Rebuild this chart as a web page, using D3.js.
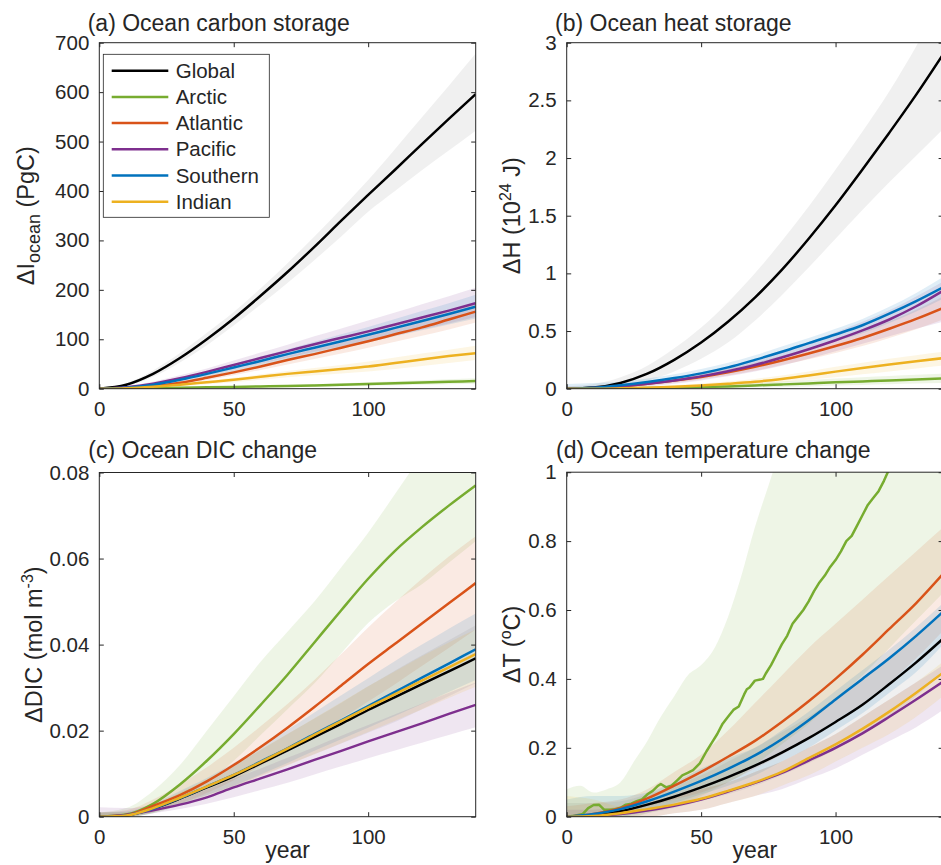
<!DOCTYPE html>
<html><head><meta charset="utf-8">
<script src="https://cdn.jsdelivr.net/npm/d3@7"></script>
<style>
body{margin:0;background:#fff}
svg{display:block}
text{font-family:"Liberation Sans",Arial,Helvetica,sans-serif;fill:#262626}
</style>
</head><body>
<svg id="chart" width="941" height="865"></svg>
<script>
// ---------------- DATA ----------------
const years = [0,10,20,30,40,50,60,70,80,90,100,110,120,130,140];
const regions = ["Global","Arctic","Atlantic","Pacific","Southern","Indian"];
const regionColors = ["#000000","#77AC30","#D95319","#7E2F8E","#0072BD","#EDB120"];
const xTicks = [0,50,100];

// (a) Ocean carbon storage, PgC
const carbonTicks = [0,100,200,300,400,500,600,700];
const carbonGlobal   = [0,8,30,62,100,142,188,236,287,340,392,443,495,546,596];
const carbonGlobalLo = [0,5,24,53,88,128,170,214,260,308,358,400,442,482,522];
const carbonGlobalHi = [1,11,37,72,113,155,203,254,308,364,422,485,549,613,678];
const carbonArctic   = [0,0.3,1,2,2.7,3.5,4.5,5.5,6.7,8,9.5,11,12.5,14,15.5];
const carbonArcticLo = [0,0,0.4,1,1.5,2,2.7,3.4,4.2,5,6,7,8,9,10];
const carbonArcticHi = [0.3,0.7,1.6,3,4,5,6.3,7.7,9.2,11,13,15,17,19,21];
const carbonAtlantic   = [0,1,5,12,22,33,45,58,70,83,96,110,124,140,156];
const carbonAtlanticLo = [0,0.5,3,9,17,27,38,49,60,71,83,95,107,120,134];
const carbonAtlanticHi = [0.5,2,7,15,27,39,52,66,80,94,109,124,140,156,172];
const carbonPacific   = [0,3,10,21,34,48,62,76,90,103,116,130,144,158,173];
const carbonPacificLo = [0,1.5,7,16,27,39,51,63,75,86,97,108,120,132,145];
const carbonPacificHi = [2,5,14,27,41,57,73,89,106,122,138,154,171,187,204];
const carbonSouthern   = [0,2,8,18,30,43,56,70,83,96,109,123,137,151,166];
const carbonSouthernLo = [0,1,5,14,24,35,47,59,71,82,94,106,118,130,142];
const carbonSouthernHi = [1,3,10,21,35,50,65,80,95,110,125,141,157,173,190];
const carbonIndian   = [0,1,4,8,13,18,24,30,35,40,45,52,59,66,72];
const carbonIndianLo = [0,0.5,2.5,5.5,9,13,18,23,27,31,35,40,46,52,58];
const carbonIndianHi = [0.5,1.5,5,10,16,22,29,36,42,48,55,63,71,79,87];

// (b) Ocean heat storage, 10^24 J
const heatTicks = [0,0.5,1,1.5,2,2.5,3];
const heatGlobal   = [0,0.01,0.05,0.13,0.25,0.40,0.58,0.79,1.03,1.30,1.59,1.90,2.22,2.55,2.90];
const heatGlobalLo = [0,0,0.02,0.07,0.15,0.26,0.4,0.59,0.81,1.05,1.3,1.55,1.79,2.02,2.25];
const heatGlobalHi = [0.02,0.04,0.1,0.2,0.35,0.53,0.75,1.0,1.28,1.58,1.9,2.23,2.58,2.97,3.4];
const heatArctic   = [0,0,0.002,0.005,0.009,0.014,0.02,0.028,0.037,0.046,0.055,0.063,0.071,0.08,0.09];
const heatArcticLo = [0,0,0,0,0.002,0.004,0.007,0.01,0.015,0.02,0.027,0.033,0.039,0.045,0.05];
const heatArcticHi = [0.01,0.01,0.01,0.015,0.02,0.028,0.038,0.05,0.062,0.075,0.088,0.1,0.11,0.12,0.13];
const heatAtlantic   = [0,0.005,0.02,0.042,0.07,0.102,0.142,0.19,0.245,0.305,0.37,0.44,0.52,0.605,0.7];
const heatAtlanticLo = [0,0,0.008,0.028,0.052,0.08,0.115,0.155,0.205,0.255,0.31,0.37,0.44,0.515,0.6];
const heatAtlanticHi = [0.01,0.015,0.035,0.058,0.09,0.127,0.172,0.225,0.285,0.35,0.42,0.495,0.585,0.685,0.8];
const heatPacific   = [0,0.005,0.02,0.043,0.072,0.107,0.152,0.205,0.27,0.342,0.42,0.505,0.6,0.715,0.85];
const heatPacificLo = [0,0,0.005,0.02,0.043,0.072,0.107,0.15,0.2,0.26,0.325,0.39,0.455,0.52,0.58];
const heatPacificHi = [0.02,0.02,0.04,0.067,0.098,0.137,0.187,0.25,0.325,0.405,0.49,0.58,0.68,0.8,0.93];
const heatSouthern   = [0,0.008,0.03,0.058,0.092,0.133,0.185,0.25,0.32,0.395,0.47,0.55,0.65,0.76,0.88];
const heatSouthernLo = [0,0,0.01,0.038,0.068,0.1,0.145,0.2,0.265,0.335,0.41,0.48,0.57,0.67,0.78];
const heatSouthernHi = [0.04,0.05,0.06,0.088,0.125,0.17,0.225,0.29,0.365,0.44,0.52,0.605,0.71,0.83,0.97];
const heatIndian   = [0,0,0.003,0.008,0.016,0.027,0.042,0.06,0.085,0.115,0.148,0.18,0.21,0.238,0.265];
const heatIndianLo = [0,0,0,0.002,0.006,0.012,0.022,0.036,0.055,0.078,0.1,0.125,0.15,0.175,0.2];
const heatIndianHi = [0.005,0.005,0.01,0.018,0.03,0.045,0.063,0.085,0.115,0.15,0.19,0.225,0.26,0.29,0.32];

// (c) Ocean DIC change, mol m^-3
const dicTicks = [0,0.02,0.04,0.06,0.08];
const dicGlobal   = [0,0.0003,0.0019,0.0042,0.0068,0.0094,0.0124,0.0154,0.0185,0.0216,0.0248,0.0278,0.0308,0.0338,0.0368];
const dicGlobalLo = [0,0,0.001,0.003,0.005,0.007,0.0095,0.012,0.0145,0.017,0.0195,0.022,0.025,0.028,0.031];
const dicGlobalHi = [0.001,0.001,0.0028,0.0055,0.0085,0.012,0.0155,0.0192,0.0228,0.0265,0.0303,0.034,0.0375,0.041,0.0445];
const dicArctic   = [0,0.0005,0.003,0.0075,0.013,0.0192,0.026,0.033,0.0405,0.048,0.0553,0.0618,0.0673,0.0723,0.077];
const dicArcticLo = [0,0,0.001,0.004,0.008,0.013,0.019,0.025,0.031,0.038,0.045,0.05,0.054,0.059,0.064];
const dicArcticHi = [0.001,0.002,0.006,0.012,0.02,0.028,0.036,0.043,0.05,0.058,0.066,0.075,0.084,0.092,0.098];
const dicAtlantic   = [0,0.0004,0.0025,0.005,0.0082,0.012,0.0162,0.0207,0.0255,0.0305,0.0355,0.0402,0.0449,0.0496,0.0543];
const dicAtlanticLo = [0,0,0.0012,0.003,0.0055,0.0085,0.0118,0.0152,0.019,0.0228,0.0268,0.0308,0.035,0.0392,0.0435];
const dicAtlanticHi = [0.001,0.0015,0.004,0.0075,0.0115,0.016,0.021,0.0262,0.0318,0.0378,0.044,0.0498,0.0553,0.0605,0.0652];
const dicPacific   = [0,0.0004,0.0015,0.0028,0.0045,0.0068,0.0089,0.011,0.0132,0.0153,0.0175,0.0196,0.0217,0.0239,0.026];
const dicPacificLo = [0,0,0.0008,0.0018,0.003,0.0045,0.0062,0.0079,0.0098,0.0117,0.0136,0.0154,0.0172,0.019,0.0208];
const dicPacificHi = [0.0022,0.002,0.0028,0.0045,0.0063,0.0088,0.0112,0.0137,0.0162,0.0188,0.0213,0.0238,0.0263,0.0288,0.0312];
const dicSouthern   = [0,0.0003,0.0019,0.0043,0.007,0.0097,0.0128,0.0159,0.0192,0.0224,0.0257,0.029,0.0323,0.0356,0.0389];
const dicSouthernLo = [0,0,0.0008,0.0028,0.005,0.0072,0.0098,0.0125,0.0153,0.018,0.0207,0.0234,0.0262,0.029,0.0318];
const dicSouthernHi = [0.001,0.0012,0.003,0.006,0.009,0.0125,0.0163,0.0202,0.0242,0.0282,0.0322,0.0362,0.04,0.0437,0.0472];
const dicIndian   = [0,0.0003,0.002,0.0044,0.007,0.0097,0.0127,0.0158,0.019,0.0222,0.0254,0.0285,0.0316,0.0347,0.0378];
const dicIndianLo = [0,0,0.0008,0.0027,0.0048,0.007,0.0094,0.0119,0.0145,0.0171,0.0197,0.0223,0.0249,0.0276,0.0302];
const dicIndianHi = [0.001,0.001,0.0028,0.0056,0.0087,0.012,0.0156,0.0192,0.0229,0.0266,0.0303,0.0338,0.0373,0.0405,0.0435];

// (d) Ocean temperature change, degC
const tempTicks = [0,0.2,0.4,0.6,0.8,1];
const tempGlobal   = [0,0.004,0.016,0.035,0.058,0.085,0.115,0.148,0.186,0.228,0.275,0.325,0.385,0.448,0.517];
const tempGlobalLo = [0,0,0,0.01,0.025,0.045,0.065,0.09,0.12,0.155,0.195,0.24,0.29,0.35,0.42];
const tempGlobalHi = [0.04,0.04,0.045,0.065,0.09,0.12,0.16,0.2,0.245,0.29,0.345,0.405,0.465,0.53,0.6];
const tempArcticYears = [0,3,6,8,10,12,14,16,18,20,22,24,26,28,30,32,34,35,37,39,41,43,45,47,49.5,52,54,56,58,60,62,64,66,67,68,70,72,73,74,76,78,80,82,84,86,88,90,92,94,96,98,100,102,104,106,108,110,112,114,116,118,120,122];
const tempArctic = [0,0.003,0.008,0.025,0.034,0.035,0.02,0.02,0.022,0.026,0.035,0.038,0.045,0.05,0.065,0.075,0.09,0.095,0.085,0.09,0.105,0.12,0.127,0.135,0.155,0.19,0.215,0.24,0.27,0.29,0.31,0.32,0.355,0.37,0.375,0.395,0.398,0.4,0.415,0.44,0.47,0.5,0.525,0.56,0.58,0.6,0.625,0.655,0.68,0.7,0.725,0.745,0.77,0.8,0.815,0.845,0.875,0.905,0.925,0.945,0.975,1.01,1.05];
const tempArcticBandYears = [0,5,10,15,20,25,30,35,40,45,50,55,60,65,70,75,80,90,100,110,120,130,140];
const tempArcticLo = [0,0,0,0,0,0,0.01,0.02,0.03,0.04,0.06,0.08,0.1,0.12,0.15,0.18,0.21,0.27,0.34,0.41,0.49,0.57,0.65];
const tempArcticHi = [0.08,0.09,0.07,0.08,0.1,0.16,0.22,0.29,0.35,0.41,0.44,0.49,0.58,0.7,0.84,0.96,1.08,1.3,1.5,1.7,1.9,2.1,2.3];
const tempAtlantic   = [0,0.008,0.025,0.053,0.09,0.13,0.174,0.22,0.275,0.335,0.4,0.47,0.545,0.62,0.705];
const tempAtlanticLo = [0,0,0.01,0.03,0.05,0.07,0.1,0.14,0.18,0.23,0.28,0.33,0.39,0.46,0.54];
const tempAtlanticHi = [0.03,0.04,0.05,0.08,0.13,0.18,0.25,0.33,0.41,0.49,0.56,0.63,0.7,0.77,0.84];
const tempPacific   = [0,0.002,0.008,0.018,0.032,0.05,0.073,0.098,0.127,0.163,0.2,0.242,0.29,0.34,0.392];
const tempPacificLo = [0,0,0,0,0.01,0.02,0.04,0.06,0.08,0.11,0.14,0.18,0.22,0.26,0.31];
const tempPacificHi = [0.02,0.02,0.03,0.04,0.06,0.08,0.1,0.13,0.16,0.2,0.24,0.29,0.34,0.39,0.44];
const tempSouthern   = [0,0.008,0.022,0.045,0.073,0.104,0.139,0.178,0.225,0.28,0.34,0.4,0.46,0.525,0.595];
const tempSouthernLo = [0,0,0,0.02,0.04,0.065,0.09,0.12,0.16,0.2,0.25,0.3,0.36,0.42,0.5];
const tempSouthernHi = [0.05,0.06,0.06,0.07,0.1,0.14,0.17,0.2,0.25,0.305,0.365,0.425,0.485,0.55,0.62];
const tempIndian   = [0,0.002,0.01,0.022,0.035,0.052,0.075,0.1,0.13,0.17,0.21,0.255,0.305,0.36,0.418];
const tempIndianLo = [0,0,0,0,0.01,0.02,0.04,0.06,0.09,0.12,0.16,0.2,0.24,0.29,0.35];
const tempIndianHi = [0.06,0.05,0.03,0.04,0.06,0.08,0.1,0.13,0.16,0.2,0.24,0.29,0.34,0.39,0.45];

// ---------------- DRAWING ----------------
const svg = d3.select("#chart");
const INK = "#262626";
const fmt = d => String(+(+d).toFixed(4));

function mk(name, mean, lo, hi, lineYears, bandYears) {
  const i = regions.indexOf(name);
  return {name, color: regionColors[i], mean, lo, hi, lineYears: lineYears || years, bandYears: bandYears || years};
}

function drawPanel(cfg) {
  const x = d3.scaleLinear().domain([0,140]).range([cfg.left, cfg.left + 376.4]);
  const y = d3.scaleLinear().domain(cfg.yDomain).range([cfg.bottom, cfg.top]);
  const w = x(140) - cfg.left, h = cfg.bottom - cfg.top;
  const g = svg.append("g");
  const clipId = "clip-" + cfg.id;
  svg.append("defs").append("clipPath").attr("id", clipId)
    .append("rect").attr("x", cfg.left).attr("y", cfg.top).attr("width", w).attr("height", h);
  const plot = g.append("g").attr("clip-path", `url(#${clipId})`);

  const area = d3.area().x(d => x(d[0])).y0(d => y(d[1])).y1(d => y(d[2])).curve(d3.curveMonotoneX);
  cfg.series.forEach(s => {
    plot.append("path")
      .datum(s.bandYears.map((yr, i) => [yr, s.lo[i], s.hi[i]]))
      .attr("d", area)
      .attr("fill", s.name === "Global" ? "#000" : s.color)
      .attr("fill-opacity", s.name === "Global" ? 0.06 : 0.12)
      .attr("stroke", "none");
  });
  cfg.series.forEach(s => {
    const line = d3.line().x(d => x(d[0])).y(d => y(d[1]))
      .curve(s.lineYears === years ? d3.curveMonotoneX : d3.curveLinear);
    plot.append("path")
      .datum(s.lineYears.map((yr, i) => [yr, s.mean[i]]))
      .attr("d", line)
      .attr("fill", "none")
      .attr("stroke", s.color)
      .attr("stroke-width", 2.5)
      .attr("stroke-linejoin", "round");
  });

  // axes (ticks inside, MATLAB box style)
  const fs = "20.5px";
  const bottomAx = g.append("g").attr("transform", `translate(0,${cfg.bottom})`)
    .call(d3.axisBottom(x).tickValues(xTicks).tickSize(-4.5).tickPadding(13).tickFormat(fmt));
  const leftAx = g.append("g").attr("transform", `translate(${cfg.left},0)`)
    .call(d3.axisLeft(y).tickValues(cfg.yTicks).tickSize(-4.5).tickPadding(10).tickFormat(fmt));
  const topAx = g.append("g").attr("transform", `translate(0,${cfg.top})`)
    .call(d3.axisTop(x).tickValues(xTicks).tickSize(-4.5).tickFormat(""));
  const rightAx = g.append("g").attr("transform", `translate(${x(140)},0)`)
    .call(d3.axisRight(y).tickValues(cfg.yTicks).tickSize(-4.5).tickFormat(""));
  [bottomAx, leftAx, topAx, rightAx].forEach(a => {
    a.select(".domain").remove();
    a.selectAll("line").attr("stroke", INK).attr("stroke-width", 1);
    a.selectAll("text").attr("fill", INK).style("font-size", fs)
      .style("font-family", '"Liberation Sans",Arial,Helvetica,sans-serif');
  });
  g.append("rect").attr("x", cfg.left).attr("y", cfg.top).attr("width", w).attr("height", h)
    .attr("fill", "none").attr("stroke", INK).attr("stroke-width", 1);

  // title
  g.append("text").attr("x", cfg.titleX).attr("y", cfg.titleY).style("font-size", "23px").text(cfg.title);

  // y label
  const yl = g.append("text")
    .attr("transform", `translate(${cfg.ylabelX},${(cfg.top + cfg.bottom) / 2}) rotate(-90)`)
    .attr("text-anchor", "middle").style("font-size", "23.5px");
  cfg.ylabel(yl);

  if (cfg.xlabel) {
    g.append("text").attr("x", cfg.left + 376.4 / 2).attr("y", 858)
      .attr("text-anchor", "middle").style("font-size", "23px").text("year");
  }
  return {x, y, g};
}

drawPanel({
  id: "a", left: 99.3, top: 42.7, bottom: 388.7, yDomain: [0,700], yTicks: carbonTicks,
  title: "(a) Ocean carbon storage", titleX: 87.7, titleY: 31, ylabelX: 34,
  ylabel: t => { t.append("tspan").text("\u0394I"); t.append("tspan").attr("dy", 6).style("font-size", "18px").text("ocean"); t.append("tspan").attr("dy", -6).text(" (PgC)"); },
  series: [
    mk("Global", carbonGlobal, carbonGlobalLo, carbonGlobalHi),
    mk("Arctic", carbonArctic, carbonArcticLo, carbonArcticHi),
    mk("Atlantic", carbonAtlantic, carbonAtlanticLo, carbonAtlanticHi),
    mk("Pacific", carbonPacific, carbonPacificLo, carbonPacificHi),
    mk("Southern", carbonSouthern, carbonSouthernLo, carbonSouthernHi),
    mk("Indian", carbonIndian, carbonIndianLo, carbonIndianHi)
  ]
});

drawPanel({
  id: "b", left: 566.7, top: 42.7, bottom: 388.7, yDomain: [0,3], yTicks: heatTicks,
  title: "(b) Ocean heat storage", titleX: 555, titleY: 31, ylabelX: 520,
  ylabel: t => { t.append("tspan").text("\u0394H (10"); t.append("tspan").attr("dy", -9).style("font-size", "16px").text("24"); t.append("tspan").attr("dy", 9).text(" J)"); },
  series: [
    mk("Global", heatGlobal, heatGlobalLo, heatGlobalHi),
    mk("Arctic", heatArctic, heatArcticLo, heatArcticHi),
    mk("Atlantic", heatAtlantic, heatAtlanticLo, heatAtlanticHi),
    mk("Pacific", heatPacific, heatPacificLo, heatPacificHi),
    mk("Southern", heatSouthern, heatSouthernLo, heatSouthernHi),
    mk("Indian", heatIndian, heatIndianLo, heatIndianHi)
  ]
});

drawPanel({
  id: "c", left: 99.3, top: 472.5, bottom: 816.7, yDomain: [0,0.08], yTicks: dicTicks,
  title: "(c) Ocean DIC change", titleX: 88.3, titleY: 458.3, ylabelX: 41.5, xlabel: true,
  ylabel: t => { t.append("tspan").text("\u0394DIC (mol m"); t.append("tspan").attr("dy", -9).style("font-size", "16px").text("-3"); t.append("tspan").attr("dy", 9).text(")"); },
  series: [
    mk("Global", dicGlobal, dicGlobalLo, dicGlobalHi),
    mk("Arctic", dicArctic, dicArcticLo, dicArcticHi),
    mk("Atlantic", dicAtlantic, dicAtlanticLo, dicAtlanticHi),
    mk("Pacific", dicPacific, dicPacificLo, dicPacificHi),
    mk("Southern", dicSouthern, dicSouthernLo, dicSouthernHi),
    mk("Indian", dicIndian, dicIndianLo, dicIndianHi)
  ]
});

drawPanel({
  id: "d", left: 566.7, top: 472.2, bottom: 816.7, yDomain: [0,1], yTicks: tempTicks,
  title: "(d) Ocean temperature change", titleX: 556, titleY: 458.3, ylabelX: 520, xlabel: true,
  ylabel: t => { t.append("tspan").text("\u0394T ("); t.append("tspan").attr("dy", -9).style("font-size", "16px").text("o"); t.append("tspan").attr("dy", 9).text("C)"); },
  series: [
    mk("Global", tempGlobal, tempGlobalLo, tempGlobalHi),
    mk("Arctic", tempArctic, tempArcticLo, tempArcticHi, tempArcticYears, tempArcticBandYears),
    mk("Atlantic", tempAtlantic, tempAtlanticLo, tempAtlanticHi),
    mk("Pacific", tempPacific, tempPacificLo, tempPacificHi),
    mk("Southern", tempSouthern, tempSouthernLo, tempSouthernHi),
    mk("Indian", tempIndian, tempIndianLo, tempIndianHi)
  ]
});

// legend in panel (a)
const leg = svg.append("g");
leg.append("rect").attr("x", 103.3).attr("y", 54.3).attr("width", 166).attr("height", 163)
  .attr("fill", "#fff").attr("stroke", INK).attr("stroke-width", 0.8);
regions.forEach((r, i) => {
  const cy = 70.7 + i * 26.2;
  leg.append("line").attr("x1", 111.7).attr("x2", 168.3).attr("y1", cy).attr("y2", cy)
    .attr("stroke", regionColors[i]).attr("stroke-width", 2.5);
  leg.append("text").attr("x", 175.7).attr("y", cy).attr("dy", "0.35em")
    .style("font-size", "20.5px").text(r);
});
</script>
</body></html>
